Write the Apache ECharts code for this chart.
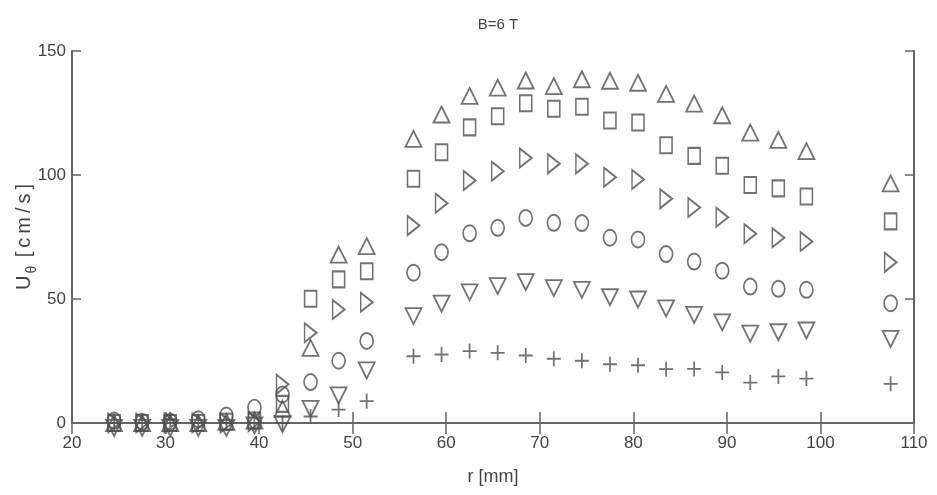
<!DOCTYPE html>
<html>
<head>
<meta charset="utf-8">
<script src="https://cdn.jsdelivr.net/npm/echarts@6/dist/echarts.min.js"></script>
<style>
html,body{margin:0;padding:0;background:#fff;}
#chart{width:937px;height:495px;}
</style>
</head>
<body>
<div id="chart"></div>
<script>
// Radial positions r [mm]
var r = [24.5, 27.5, 30.5, 33.5, 36.5, 39.5, 42.5, 45.5, 48.5, 51.5, 56.5, 59.5, 62.5, 65.5, 68.5, 71.5, 74.5, 77.5, 80.5, 83.5, 86.5, 89.5, 92.5, 95.5, 98.5, 107.5];
// U_theta [cm/s] for each marker series
var triUp    = [0, 0, 0, 0, 0.5, 1, 5.7, 30.3, 67.9, 71.3, 114.6, 124.4, 131.9, 135.2, 138.1, 135.8, 138.6, 138.0, 137.2, 132.7, 128.8, 124.1, 117.1, 114.2, 109.6, 96.6];
var square   = [0, 0, 0, 0, 0.5, 1, 7.7, 50.1, 57.9, 61.2, 98.5, 109.2, 119.2, 123.7, 128.9, 126.7, 127.5, 122.0, 121.2, 112.0, 107.7, 103.7, 96.0, 94.6, 91.3, 81.3];
var triRight = [0, 0, 0, 0, 0, 0.5, 15.6, 36.4, 45.8, 48.7, 79.6, 88.6, 97.8, 101.5, 106.9, 104.5, 104.5, 99.1, 98.2, 90.4, 86.9, 83.0, 76.3, 74.7, 73.2, 64.8];
var circle   = [1, 0.5, 0.5, 1.5, 3, 6.2, 11.5, 16.5, 25.1, 33.1, 60.6, 68.9, 76.5, 78.7, 82.7, 80.7, 80.6, 74.7, 74.0, 68.1, 65.1, 61.4, 55.0, 54.1, 53.7, 48.3];
var triDown  = [-2, -2, -2, -2, -2, -1, -0.5, 5.7, 11.1, 21.2, 43.1, 48.1, 52.7, 55.2, 56.8, 54.4, 53.7, 50.7, 49.8, 46.2, 43.6, 40.6, 36.0, 36.6, 37.3, 33.9];
var plus     = [0, 0, 1.5, 0, 0, 0, 0, 2.6, 5.4, 8.8, 26.9, 27.6, 29.0, 28.3, 27.2, 25.9, 25.1, 23.7, 23.3, 21.7, 21.8, 20.4, 16.3, 18.8, 17.9, 15.8];

var titleText = 'B=6 T';
var xName = 'r [mm]';

var INK = '#505050';
var TXT = '#444';
var FONT = 'Liberation Sans, Arial, sans-serif';

function pairs(ys) { return r.map(function (x, i) { return [x, ys[i]]; }); }

function mk(name, ys, symbol, size) {
  return {
    name: name, type: 'scatter', data: pairs(ys),
    symbol: symbol, symbolSize: size, clip: false,
    itemStyle: { color: 'transparent', borderColor: INK, borderWidth: 1.8 },
    emphasis: { disabled: true }, silent: true
  };
}

var chart = echarts.init(document.getElementById('chart'), null, { renderer: 'canvas' });
var axisLine = { show: true, lineStyle: { color: '#666', width: 2 } };
chart.setOption({
  animation: false,
  backgroundColor: '#fff',
  title: {
    text: titleText, left: 493, top: 12, textAlign: 'center',
    textStyle: { fontFamily: FONT, fontSize: 15, fontWeight: 'normal', color: TXT }
  },
  grid: { left: 72, right: 23, top: 51, bottom: 72, containLabel: false, outerBoundsMode: 'none' },
  xAxis: [{
    type: 'value', min: 20, max: 110, interval: 10, position: 'bottom',
    axisLine: axisLine,
    axisTick: { show: true, inside: true, length: 11, lineStyle: { color: '#666', width: 1.5 } },
    axisLabel: { fontFamily: FONT, fontSize: 17, color: TXT, margin: 12 },
    splitLine: { show: false },
    name: xName, nameLocation: 'middle', nameGap: 45, nameMoveOverlap: false,
    nameTextStyle: { fontFamily: FONT, fontSize: 18, color: TXT }
  }, {
    type: 'value', min: 20, max: 110, interval: 10, position: 'top',
    axisLine: axisLine,
    axisTick: { show: true, inside: true, length: 11, lineStyle: { color: '#666', width: 1.5 } },
    axisLabel: { show: false }, splitLine: { show: false }
  }],
  yAxis: [{
    type: 'value', min: 0, max: 150, interval: 50, position: 'left',
    axisLine: axisLine,
    axisTick: { show: true, inside: true, length: 9, lineStyle: { color: '#666', width: 1.5 } },
    axisLabel: { fontFamily: FONT, fontSize: 17, color: TXT, margin: 6 },
    splitLine: { show: false },
    name: '{a|U}{b|θ}{a| [\u2009c\u2009m\u2009/\u2009s\u2009]}', nameLocation: 'middle', nameGap: 38, nameRotate: 90,
    nameMoveOverlap: false,
    nameTextStyle: {
      fontFamily: FONT, color: TXT,
      rich: {
        a: { fontFamily: FONT, fontSize: 20, color: TXT, lineHeight: 24, verticalAlign: 'bottom' },
        b: { fontFamily: FONT, fontSize: 14, color: TXT, lineHeight: 24, verticalAlign: 'bottom', padding: [0, 3, -5, 2] }
      }
    }
  }, {
    type: 'value', min: 0, max: 150, interval: 50, position: 'right',
    axisLine: axisLine,
    axisTick: { show: true, inside: true, length: 9, lineStyle: { color: '#666', width: 1.5 } },
    axisLabel: { show: false }, splitLine: { show: false }
  }],
  series: [
    mk('up', triUp, 'path://M5,0 L10,10 L0,10 Z', [16, 16]),
    mk('square', square, 'rect', [12, 16]),
    mk('right', triRight, 'path://M0,0 L10,5 L0,10 Z', [12, 19]),
    mk('circle', circle, 'circle', [13, 16]),
    mk('down', triDown, 'path://M0,0 L10,0 L5,10 Z', [16, 16]),
    mk('plus', plus, 'path://M0,5 L10,5 M5,0 L5,10', [14, 15])
  ]
});
</script>
</body>
</html>
